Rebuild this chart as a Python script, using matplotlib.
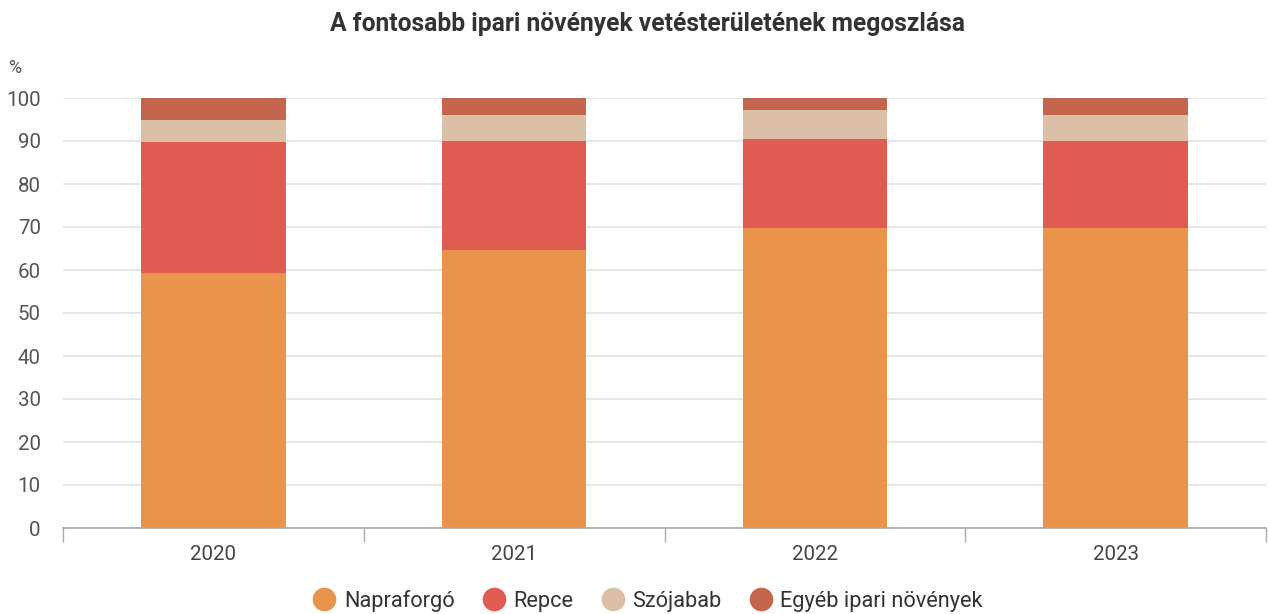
import matplotlib
matplotlib.use("Agg")
import matplotlib.pyplot as plt
import numpy as np
from matplotlib.lines import Line2D

years = ["2020", "2021", "2022", "2023"]
napraforgo = [59.2, 64.7, 69.8, 69.8]
repce = [30.5, 25.3, 20.6, 20.2]
szojabab = [5.3, 6.1, 6.8, 6.1]
egyeb = [5.0, 3.9, 2.8, 3.9]
series_names = ["Napraforgó", "Repce", "Szójabab", "Egyéb ipari növények"]
colors = ["#E9944A", "#E05C52", "#DBBFA6", "#C4664E"]
yticks = [0, 10, 20, 30, 40, 50, 60, 70, 80, 90, 100]

plt.rcParams['font.family'] = ['Roboto', 'DejaVu Sans']

fig = plt.figure(figsize=(12.69, 6.14), dpi=100)
ax = fig.add_axes([63/1269, 1 - 528/614, (1266-63)/1269, (528-98)/614])

x = np.arange(len(years))
bottom = np.zeros(len(years))
for vals, c in zip([napraforgo, repce, szojabab, egyeb], colors):
    ax.bar(x, vals, bottom=bottom, width=0.48, color=c, zorder=3, linewidth=0)
    bottom += np.array(vals)

ax.set_xlim(-0.5, len(years) - 0.5)
ax.set_ylim(0, 100)
ax.set_yticks(yticks)
ax.set_yticklabels([str(t) for t in yticks], fontsize=14.8, color="#555555")
ax.grid(axis="y", color="#e3e3e3", linewidth=1.2, zorder=0)
ax.tick_params(axis="y", length=0, pad=16)
for s in ["top", "right", "left"]:
    ax.spines[s].set_visible(False)
ax.spines["bottom"].set_color("#aaaaaa")
ax.spines["bottom"].set_linewidth(1.2)
ax.spines["bottom"].set_zorder(4)

ax.set_xticks(x)
ax.set_xticklabels(years, fontsize=14.8, color="#444444")
ax.tick_params(axis="x", length=0, pad=12)
ax.set_xticks(np.arange(-0.5, len(years)), minor=True)
ax.tick_params(axis="x", which="minor", length=10, color="#aaaaaa", width=1)

fig.text(648/1269, 1 - 24/614, "A fontosabb ipari növények vetésterületének megoszlása",
         ha="center", va="center", fontsize=17.7, fontweight="bold", color="#333333")
fig.text(8/1269, 1 - 68/614, "%", ha="left", va="center", fontsize=13, color="#555555")

handles = [Line2D([0], [0], marker="o", linestyle="", markersize=16,
                  markerfacecolor=c, markeredgecolor=c) for c in colors]
fig.legend(handles, series_names, loc="center", bbox_to_anchor=(648/1269, 1 - 601/614),
           ncol=4, frameon=False, fontsize=15.7, handlelength=1.0, handletextpad=0.4,
           columnspacing=1.3, labelcolor="#333333")

fig.savefig("out.png", dpi=100)
